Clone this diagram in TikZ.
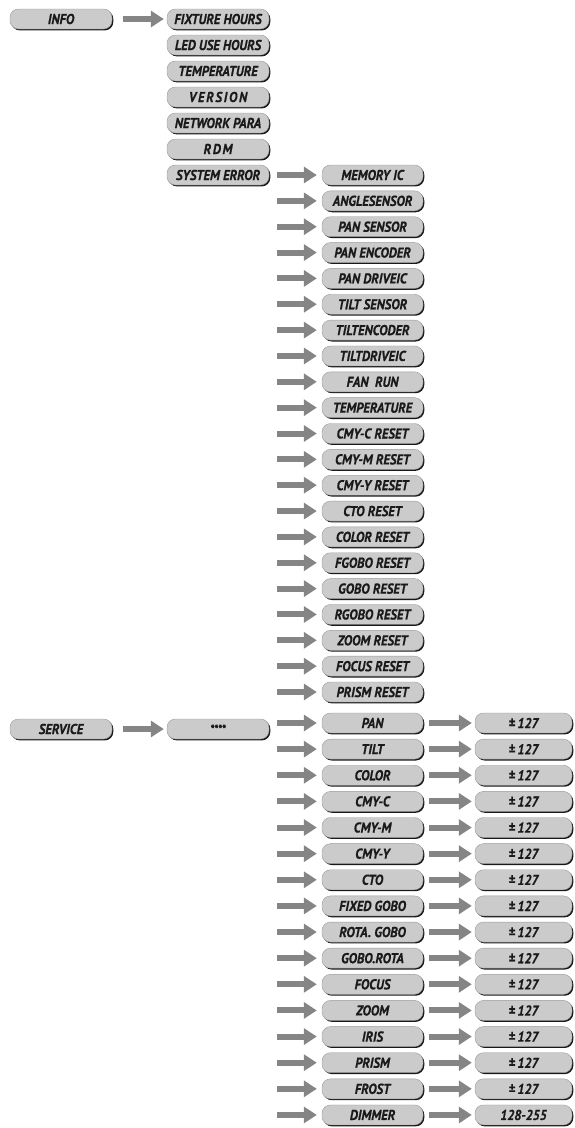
\documentclass[tikz,border=0pt]{standalone}
\usepackage{fontspec}
\setmainfont{PT Sans}[FakeStretch=0.9]
\usetikzlibrary{arrows.meta,shadows,calc}
\definecolor{boxfill}{HTML}{CBCBCB}
\definecolor{boxedge}{HTML}{9A9A9A}
\definecolor{arrfill}{HTML}{858585}
\definecolor{txt}{HTML}{1A1A1A}
\tikzset{
  menubox/.style={rounded corners=8.5pt, fill=boxfill, draw=boxedge, line width=0.4pt,
    minimum height=20pt, inner sep=0pt, text=txt,
    font=\fontsize{14.3}{15}\selectfont\bfseries\itshape\addfontfeature{FakeBold=0.6},
    drop shadow={shadow xshift=1.3pt, shadow yshift=-1.4pt, fill=black!90, opacity=1}},
  boxA/.style={menubox, minimum width=102pt},
  boxB/.style={menubox, minimum width=101pt},
  boxC/.style={menubox, minimum width=97pt},
  conn/.style={draw=arrfill, line width=6pt,
    -{Triangle[length=13pt,width=16pt,fill=arrfill]}}
}
\begin{document}
\begin{tikzpicture}[x=1pt,y=-1pt]
\useasboundingbox (0,0) rectangle (574,1128);
% INFO branch
\node[boxA] (info) at (61,19) {INFO};
\foreach \t [count=\i] in {FIXTURE HOURS,LED USE HOURS,TEMPERATURE,{\addfontfeature{LetterSpace=12}VERSION},NETWORK PARA,{\addfontfeature{LetterSpace=12}RDM},SYSTEM ERROR}
  \node[boxA] (f\i) at (218,{19+26*(\i-1)}) {\t};
\draw[conn, shorten <=11pt, shorten >=3pt] (info.east) -- (f1.west);
% system errors
\foreach \t [count=\i] in {MEMORY IC,ANGLESENSOR,PAN SENSOR,PAN ENCODER,PAN DRIVEIC,TILT SENSOR,TILTENCODER,TILTDRIVEIC,FAN~~RUN,TEMPERATURE,CMY-C RESET,CMY-M RESET,CMY-Y RESET,CTO RESET,COLOR RESET,FGOBO RESET,GOBO RESET,RGOBO RESET,ZOOM RESET,FOCUS RESET,PRISM RESET}
  \node[boxB] (e\i) at (372.5,{175+25.85*(\i-1)}) {\t};
\draw[conn, shorten <=8pt, shorten >=5pt] (f7.east) -- (e1.west);
\foreach \i in {2,...,21}{
  \coordinate (ea\i) at (277,{175+25.85*(\i-1)});
  \draw[conn, shorten >=5pt] (ea\i) -- (e\i.west);
}
% SERVICE branch
\node[boxA] (service) at (61,729) {SERVICE};
\node[boxA] (stars) at (218,729) {\fontsize{12}{12}\selectfont ****};
\draw[conn, shorten <=11pt, shorten >=3pt] (service.east) -- (stars.west);
\foreach \t/\v [count=\i] in {PAN/{\textpm\,127},TILT/{\textpm\,127},COLOR/{\textpm\,127},CMY-C/{\textpm\,127},CMY-M/{\textpm\,127},CMY-Y/{\textpm\,127},CTO/{\textpm\,127},FIXED GOBO/{\textpm\,127},ROTA. GOBO/{\textpm\,127},GOBO.ROTA/{\textpm\,127},FOCUS/{\textpm\,127},ZOOM/{\textpm\,127},IRIS/{\textpm\,127},PRISM/{\textpm\,127},FROST/{\textpm\,127},DIMMER/128-255}{
  \node[boxB] (s\i) at (372.5,{723+26.13*(\i-1)}) {\t};
  \node[boxC] (v\i) at (523.5,{723+26.13*(\i-1)}) {\v};
  \coordinate (sa\i) at (277,{723+26.13*(\i-1)});
  \draw[conn, shorten >=5pt] (sa\i) -- (s\i.west);
  \draw[conn, shorten <=6pt, shorten >=3pt] (s\i.east) -- (v\i.west);
}
\end{tikzpicture}
\end{document}
